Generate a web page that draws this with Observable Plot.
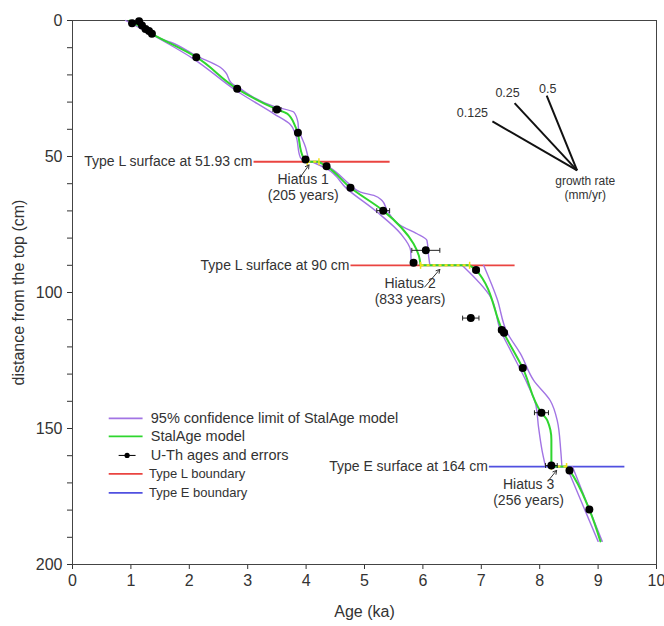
<!DOCTYPE html>
<html><head><meta charset="utf-8">
<script src="https://cdn.jsdelivr.net/npm/d3@7"></script>
<script src="https://cdn.jsdelivr.net/npm/@observablehq/plot@0.6"></script>
<style>body{margin:0;background:#fff;} #chart{width:664px;height:626px;}</style>
</head><body><div id="chart"></div>
<script>
// U-Th ages (ka), depths (cm), 2-sigma errors (ka)
const uthAge   = [1.14, 1.02, 1.19, 1.25, 1.31, 1.36, 2.12, 2.82, 3.50, 3.86, 3.99, 4.35, 4.76, 5.32, 6.05, 5.84, 6.91, 6.82, 7.35, 7.39, 7.71, 8.03, 8.20, 8.51, 8.85];
const uthDepth = [0.3, 1.0, 1.8, 3.1, 3.9, 4.9, 13.5, 25.1, 32.7, 41.3, 51.1, 53.6, 61.5, 69.9, 84.5, 89.1, 91.7, 109.4, 113.8, 114.8, 127.8, 144.2, 163.6, 165.4, 179.8];
const uthErr   = [0.03, 0.03, 0.03, 0.03, 0.03, 0.03, 0.03, 0.04, 0.07, 0.04, 0.04, 0.04, 0.04, 0.11, 0.24, 0.05, 0.05, 0.14, 0.05, 0.05, 0.05, 0.12, 0.10, 0.05, 0.04];

// StalAge model (segments separated by hiatuses)
const modelSeg   = [1,1,1,1,1,1,1,1,1, 2,2,2,2,2,2,2, 3,3,3,3,3,3,3,3, 4,4,4,4];
const modelAge   = [0.98,1.36,2.12,2.82,3.50,3.68,3.82,3.95,4.02, 4.22,4.35,4.76,5.32,5.84,5.93,5.96, 6.80,6.91,7.37,7.71,8.03,8.13,8.20,8.20, 8.46,8.51,8.85,9.04];
const modelDepth = [0,4.9,13.5,25.1,32.7,34.3,39.2,50.3,51.93, 51.93,53.6,61.5,69.9,82.1,86.4,90, 90,91.7,114.3,127.8,144.2,147,154,164, 164,165.4,179.8,191.5];

// 95% confidence limits: upper (older) bound
const upSeg   = [1,1,1,1,1,1,1,1,1,1,1,1,1,1,1, 2,2,2,2,2,2,2,2,2,2,2,2, 3,3,3,3,3,3,3,3,3, 4,4];
const upAge   = [1.05,1.20,1.51,1.68,2.12,2.53,2.62,2.72,2.85,3.45,3.79,3.86,3.87,3.99,4.05, 4.22,4.40,4.76,4.93,5.16,5.30,5.39,5.62,5.90,6.07,6.10,6.12, 7.04,7.27,7.44,7.67,7.90,8.18,8.30,8.36,8.38, 8.56,9.07];
const upDepth = [0,2.5,6.7,8.0,13.0,17.2,19.0,23.0,24.8,31.6,33.7,37.4,39.6,46.6,51.93, 51.93,54,60.5,63.1,64.3,66.2,69.9,75.4,78.4,80.9,87,90, 90,102.3,114.6,122.5,132.4,139.7,147,158,164, 164,191.5];
// lower (younger) bound
const loSeg   = [1,1,1,1,1,1,1,1,1, 2,2,2,2,2,2,2, 3,3,3,3,3,3,3,3,3, 4,4];
const loAge   = [0.91,1.30,2.05,2.82,3.45,3.73,3.82,3.90,3.99, 4.10,4.35,4.70,5.22,5.62,5.79,5.80, 6.67,7.16,7.33,7.50,7.79,7.93,7.98,8.04,8.10, 8.46,9.00];
const loDepth = [0,4.5,13.8,26.0,34.3,38.2,42,50.3,51.93, 51.93,54.5,61.9,70.5,78.4,84.6,90, 90,101.7,114,121.3,133.6,141,149.5,158,164, 164,191.5];

// Hiatuses
const hiatusFrom  = [4.02, 5.96, 8.20];
const hiatusTo    = [4.22, 6.80, 8.46];
const hiatusDepth = [51.93, 90, 164];
const hiatusName  = ["Hiatus 1", "Hiatus 2", "Hiatus 3"];
const hiatusYears = ["(205 years)", "(833 years)", "(256 years)"];

// Surfaces / boundaries
const surfDepth = [51.93, 90, 164];
const surfFrom  = [3.10, 4.76, 7.13];
const surfTo    = [5.43, 7.57, 9.45];
const surfType  = ["L", "L", "E"];
const surfLabel = ["Type L surface at 51.93 cm", "Type L surface at 90 cm", "Type E surface at 164 cm"];

// Growth-rate reference lines (mm/yr)
const rateLabel = ["0.125", "0.25", "0.5"];
const rateEndAge = [7.19, 7.57, 8.12];
const rateEndDepth = [37.1, 30.4, 27.6];
const rateOrigin = [8.64, 55.1];
const rateCaption = "growth rate\n(mm/yr)";

// Legend
const legendLabels = ["95% confidence limit of StalAge model", "StalAge model", "U-Th ages and errors", "Type L boundary", "Type E boundary"];
const legendDepth = [146.3, 152.9, 159.9, 166.7, 173.7];

const purple = "#a274e4", green = "#2fd62f", red = "#ea4440", blue = "#5050e0", yellow = "#f2e21a", ink = "#333";

const pts = uthAge.map((a,i)=>({age:a, depth:uthDepth[i], err:uthErr[i]}));
const model = modelAge.map((a,i)=>({age:a, depth:modelDepth[i], seg:modelSeg[i]}));
const up = upAge.map((a,i)=>({age:a, depth:upDepth[i], seg:upSeg[i]}));
const lo = loAge.map((a,i)=>({age:a, depth:loDepth[i], seg:loSeg[i]}));
const hiat = hiatusFrom.map((f,i)=>({from:f, to:hiatusTo[i], depth:hiatusDepth[i], name:hiatusName[i], years:hiatusYears[i]}));
const surf = surfDepth.map((d,i)=>({depth:d, from:surfFrom[i], to:surfTo[i], type:surfType[i], label:surfLabel[i]}));
const rates = rateLabel.map((r,i)=>({label:r, age:rateEndAge[i], depth:rateEndDepth[i]}));
const hiatEnds = hiat.flatMap(h=>[{age:h.from, depth:h.depth},{age:h.to, depth:h.depth}]);

// annotation text placement (data units)
const hLabelAge = [3.95, 5.78, 7.81];
const hLabelDepth = [61.5, 99.8, 173.7];
const hArrowFrom = [[3.90, 57.6], [6.03, 98.0], [8.15, 169.1]];
const hArrowTo   = [[4.05, 53.1], [6.29, 91.5], [8.29, 165.4]];
const hiatLabels = hiat.map((h,i)=>({age:hLabelAge[i], depth:hLabelDepth[i], name:h.name, years:h.years,
  ax1:hArrowFrom[i][0], ay1:hArrowFrom[i][1], ax2:hArrowTo[i][0], ay2:hArrowTo[i][1]}));
const legend = legendLabels.map((l,i)=>({label:l, depth:legendDepth[i], i}));

const chart = Plot.plot({
  width: 664, height: 626,
  marginLeft: 72, marginRight: 8, marginTop: 20, marginBottom: 62,
  style: {fontFamily: "'Liberation Sans', Arial, sans-serif", fontSize: "16px", color: ink, background: "#fff"},
  x: {domain: [0, 10], ticks: d3.range(0, 11), tickSize: 5, tickPadding: 5, label: "Age (ka)", labelAnchor: "center", labelOffset: 52, labelArrow: "none"},
  y: {domain: [0, 200], reverse: true, ticks: d3.range(0, 201, 10), tickFormat: d => d % 50 === 0 ? d : "", tickSize: 5, tickPadding: 5, label: "distance from the top (cm)", labelAnchor: "center", labelOffset: 60, labelArrow: "none"},
  marks: [
    Plot.frame({stroke: "#444"}),
    // boundaries
    Plot.link(surf, {x1: "from", x2: "to", y1: "depth", y2: "depth", stroke: d => d.type === "L" ? red : blue, strokeWidth: 1.8}),
    Plot.text(surf, {x: "from", y: "depth", text: "label", textAnchor: "end", dx: -1, fontSize: 14, fill: ink}),
    // confidence limits
    Plot.line(up, {x: "age", y: "depth", z: "seg", stroke: purple, strokeWidth: 1.4, curve: "monotone-y"}),
    Plot.line(lo, {x: "age", y: "depth", z: "seg", stroke: purple, strokeWidth: 1.4, curve: "monotone-y"}),
    // model
    Plot.line(model, {x: "age", y: "depth", z: "seg", stroke: green, strokeWidth: 2, curve: "monotone-y"}),
    // hiatus
    Plot.link(hiat, {x1: "from", x2: "to", y1: "depth", y2: "depth", stroke: green, strokeWidth: 2}),
    Plot.link(hiat, {x1: "from", x2: "to", y1: "depth", y2: "depth", stroke: yellow, strokeWidth: 2, strokeDasharray: "3,3"}),
    Plot.link(hiatEnds, {x1: "age", x2: "age", y1: d => d.depth - 1.3, y2: d => d.depth + 1.3, stroke: yellow, strokeWidth: 1.5}),
    // error bars
    Plot.link(pts, {x1: d => d.age - d.err, x2: d => d.age + d.err, y1: "depth", y2: "depth", stroke: "#222", strokeWidth: 1}),
    Plot.link(pts, {x1: d => d.age - d.err, x2: d => d.age - d.err, y1: d => d.depth - 0.9, y2: d => d.depth + 0.9, stroke: "#222", strokeWidth: 1}),
    Plot.link(pts, {x1: d => d.age + d.err, x2: d => d.age + d.err, y1: d => d.depth - 0.9, y2: d => d.depth + 0.9, stroke: "#222", strokeWidth: 1}),
    Plot.dot(pts, {x: "age", y: "depth", r: 4, fill: "#000"}),
    // hiatus labels
    Plot.arrow(hiatLabels, {x1: "ax1", y1: "ay1", x2: "ax2", y2: "ay2", stroke: ink, strokeWidth: 1, headLength: 6}),
    Plot.text(hiatLabels, {x: "age", y: "depth", text: "name", fontSize: 14, fill: ink, dy: -8}),
    Plot.text(hiatLabels, {x: "age", y: "depth", text: "years", fontSize: 14, fill: ink, dy: 8}),
    // growth rate diagram
    Plot.link(rates, {x1: rateOrigin[0], y1: rateOrigin[1], x2: "age", y2: "depth", stroke: "#111", strokeWidth: 2}),
    Plot.text(rates.filter(d => d.label === "0.125"), {x: "age", y: "depth", text: "label", fontSize: 12.5, fill: ink, dx: -20, dy: -8}),
    Plot.text(rates.filter(d => d.label === "0.25"), {x: "age", y: "depth", text: "label", fontSize: 12.5, fill: ink, dx: -7, dy: -10}),
    Plot.text(rates.filter(d => d.label === "0.5"), {x: "age", y: "depth", text: "label", fontSize: 12.5, fill: ink, dx: 1, dy: -7}),
    Plot.text([rateCaption], {x: rateOrigin[0] + 0.14, y: rateOrigin[1], text: d => d, fontSize: 12, fill: ink, lineAnchor: "top", dy: 5, lineHeight: 1.15}),
    // legend
    Plot.link(legend.filter(d => d.i !== 2), {x1: 0.62, x2: 1.2, y1: "depth", y2: "depth", strokeWidth: 1.8,
      stroke: d => [purple, green, null, red, blue][d.i]}),
    Plot.link(legend.filter(d => d.i === 2), {x1: 0.79, x2: 1.08, y1: "depth", y2: "depth", stroke: "#000", strokeWidth: 1}),
    Plot.dot(legend.filter(d => d.i === 2), {x: 0.935, y: "depth", r: 2.6, fill: "#000"}),
    Plot.text(legend, {x: d => d.i < 3 ? 1.34 : 1.31, y: "depth", text: "label", textAnchor: "start", fill: ink, fontSize: d => d.i < 3 ? 14.5 : 13})
  ]
});
document.getElementById("chart").append(chart);
</script>
</body></html>
